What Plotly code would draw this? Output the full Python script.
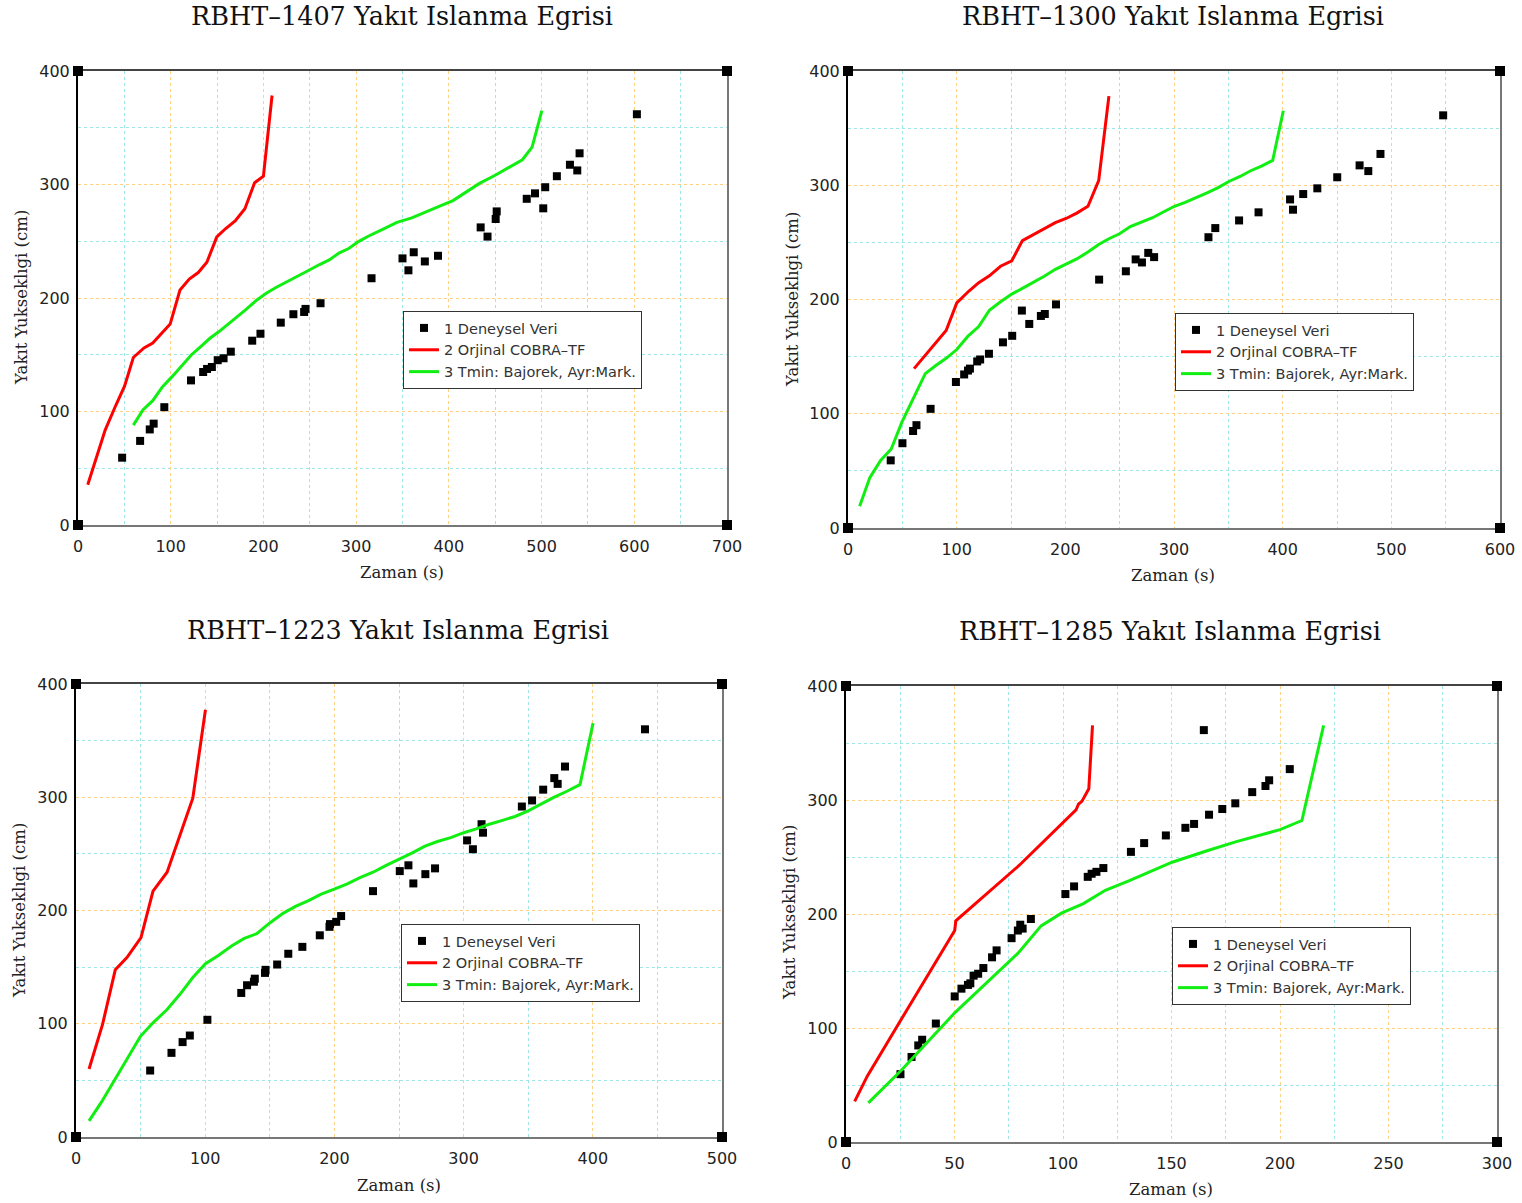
import plotly.graph_objects as go

W, H = 1522, 1203

# ---------------- data ----------------
# RBHT-1407
t1407_exp = [47.6, 67, 77.4, 81.6, 93.1, 121.9, 135, 139.2, 144.4, 150.7, 157, 164.8, 187.9, 196.8,
             218.7, 232.3, 243.9, 245.4, 261.6, 316.6, 350, 356.4, 362.1, 374.1, 388.3, 434.3, 441.7,
             450.5, 451.6, 484, 492.9, 501.8, 503.9, 516.5, 530.6, 538.5, 541, 602.8]
h1407_exp = [59.3, 74.1, 84.2, 89.3, 103.8, 127.4, 134.8, 137.5, 139.2, 145.2, 146.9, 152.7, 162.4, 168.5,
             178.3, 185.7, 187.7, 190.4, 195.4, 217.4, 234.9, 224.4, 240.3, 232.2, 237.2, 262.2, 254.1,
             269.6, 276.3, 287.4, 292.2, 279, 297.6, 307.3, 317.4, 312.4, 327.5, 361.9]
t1407_cobra = [10.5, 20, 29.3, 40.8, 50.2, 59.7, 71.2, 80.6, 91, 99.4, 110, 120, 129.7, 139, 149.7, 159,
               169.5, 180, 190.5, 200, 209.3]
h1407_cobra = [35.4, 60, 83.6, 105.5, 122.3, 147.6, 156, 160.4, 169.5, 177, 207, 216.7, 222.4, 231.5,
               253.8, 261, 268, 278.7, 301.6, 307.3, 378.4]
t1407_tmin = [59.7, 70, 80.6, 91, 101.5, 112, 122.4, 133, 142.3, 151.8, 171.6, 182, 192.6, 203, 213.5,
              229, 245, 260.6, 271, 281.5, 292, 302.5, 313, 328.6, 344, 360, 375.7, 391.4, 404.5,
              417.6, 433, 449, 464.7, 479.3, 489.8, 500.3]
h1407_tmin = [88, 101.4, 109.5, 121.7, 130.7, 140.9, 150, 157.7, 164.5, 170.2, 183, 190.4, 198.1, 204.2,
              209.3, 215.7, 222.7, 229.5, 233.5, 239.6, 243.6, 249.7, 254.4, 260.5, 266.6, 270.6,
              276.3, 281.4, 285.8, 292.5, 301, 307.7, 315.4, 321.8, 333, 365]

# RBHT-1300
t1300_exp = [39.3, 50.1, 59.9, 63, 76, 99.3, 106.9, 110.4, 112.2, 118.9, 121.6, 129.7, 142.6, 151.1,
             160, 166.8, 177.5, 181.1, 191.4, 231.1, 255.7, 264.7, 270.5, 276.3, 281.7, 331.7, 338,
             359.9, 377.8, 406.8, 409.5, 418.9, 431.9, 450.2, 470.8, 478.8, 490, 547.7]
h1300_exp = [59.2, 74.2, 84.9, 90, 104.3, 127.8, 134.4, 137.8, 139.5, 145.8, 147.5, 152.5, 162.5, 168.2,
             190.3, 178.6, 185.6, 187.3, 195.7, 217.4, 224.7, 235.1, 232.4, 240.8, 237.1, 254.5, 262.5,
             269.2, 276.3, 287.6, 278.6, 292.3, 297.3, 307, 317.4, 312.4, 327.4, 361.2]
t1300_cobra = [60.8, 70.5, 80.5, 90.3, 100.1, 111.3, 120.3, 130.1, 140.4, 150.7, 160.5, 170.3, 180.6,
               190.8, 200.7, 210.5, 220.8, 230.7, 240.1]
h1300_cobra = [139.5, 150.5, 161.5, 172.9, 197, 207.4, 214.7, 220.7, 229.1, 233.8, 251.5, 256.5, 262.2,
               267.2, 270.9, 275.6, 281.6, 304, 378]
t1300_tmin = [10.7, 20.1, 30, 39.8, 49.6, 60.5, 71.1, 80.5, 90.3, 100.1, 110.4, 120.3, 130.1, 140.4,
              150.7, 160.5, 170.3, 180.6, 190.8, 200.7, 210.5, 220.8, 230.7, 240.1, 249.9, 259.8, 270,
              280.3, 290.2, 300.4, 310.3, 320.6, 330.4, 340.2, 350.5, 360.8, 370.6, 380.5, 390.8, 400.6]
h1300_tmin = [19, 44.1, 59.2, 69.2, 92.6, 114, 135.1, 142, 148.5, 156.2, 167.9, 176.3, 190.6, 198, 204.7,
              209.7, 214.7, 220.4, 226.4, 230.8, 235.5, 241.5, 248.2, 253.2, 257.5, 263.9, 267.6, 271.6,
              276.6, 281.6, 285, 289, 293.3, 297.7, 303.3, 307.7, 312.7, 316.7, 321.7, 365.2]

# RBHT-1223
t1223_exp = [57.4, 73.9, 82.5, 88.1, 101.7, 127.9, 132.4, 137.7, 138.4, 146.3, 146.7, 155.7, 164.3,
             175.2, 188.7, 196.2, 196.6, 201.4, 205.2, 229.9, 250.6, 257.3, 261.1, 270.4, 277.9, 302.7,
             307.2, 313.9, 315, 345.1, 353, 361.6, 370.2, 372.8, 378.5, 440.4]
h1223_exp = [58.7, 74.3, 83.8, 89.6, 103.5, 127.2, 134, 137.1, 139.8, 144.9, 147.6, 152.3, 161.8, 167.9,
             178.1, 185.6, 188, 190, 195.1, 217.1, 234.8, 239.9, 223.9, 232.1, 237.2, 261.9, 254.1,
             276.2, 268.7, 291.8, 297.2, 306.7, 316.9, 311.8, 327.1, 360]
t1223_cobra = [10.1, 20.6, 30.4, 39.4, 50.3, 59.6, 70.5, 80.6, 90.4, 100.2]
h1223_cobra = [60, 99.7, 147.6, 158.4, 176.1, 217.1, 233.8, 266.3, 299.2, 377.3]
t1223_tmin = [10.1, 19.9, 30, 40.1, 49.9, 59.6, 70.5, 80.6, 90.4, 100.2, 109.9, 120.4, 130.2, 139.9,
              150, 160.2, 169.9, 180, 189.8, 199.9, 210, 219.8, 229.9, 240.1, 249.8, 259.9, 270.1,
              279.8, 290, 300.1, 309.8, 319.9, 330.1, 339.8, 350, 360.1, 369.8, 380, 390.1, 400.2]
h1223_tmin = [14.2, 31.2, 50.6, 70.2, 88.9, 100.8, 112.6, 126.2, 140.8, 153, 160.1, 168.6, 175.4, 179.5,
              189, 197.5, 203.6, 208.7, 214.4, 218.8, 223.6, 229, 233.8, 239.9, 245, 250.7, 256.8,
              260.9, 264.3, 268.7, 272.1, 276.2, 279.6, 283, 288, 294.1, 299.9, 305.3, 311.1, 365.4]

# RBHT-1285
t1285_exp = [25.1, 30.2, 33.3, 35.1, 41.4, 50.1, 53.2, 56.2, 57.3, 58.8, 60.9, 63.3, 67.3, 69.4, 76.3,
             79.2, 80.3, 81.4, 85.2, 101.1, 105.1, 111.4, 113.2, 115.4, 118.6, 131.3, 137.4, 147.4,
             156.4, 160.4, 167.3, 173.4, 179.4, 187.2, 193.3, 195, 204.5, 164.9]
h1285_exp = [59.5, 74.6, 84.7, 89.7, 103.9, 127.7, 134.5, 137.8, 139.2, 145.9, 147.6, 152.6, 162, 168.1,
             178.8, 185.5, 190.6, 187.2, 195.6, 217.5, 224.2, 232.6, 235.3, 237, 240.3, 254.5, 262.2,
             268.9, 275.6, 279, 287.1, 292.1, 297.1, 306.9, 312.3, 317.3, 327.1, 361.3]
t1285_cobra = [4, 9.8, 30, 50.1, 50.6, 80, 106, 107.2, 108.7, 111.9, 113.6]
h1285_cobra = [35.6, 57.8, 122, 185.5, 194, 243, 291.4, 296.5, 298.8, 309.9, 365.4]
t1285_tmin = [10.3, 25.5, 50.1, 65.8, 79.2, 89.9, 99.3, 109.4, 119.5, 130.6, 140.7, 150.3, 166.4,
              179.9, 200, 210.1, 220.1]
h1285_tmin = [34.3, 62.9, 113.3, 141.8, 165.4, 189.6, 200.7, 209.1, 220.8, 229.2, 237.3, 245.4, 255.5,
              263.5, 274, 282, 365.4]

titles = ["RBHT–1407 Yakıt Islanma Egrisi", "RBHT–1300 Yakıt Islanma Egrisi",
          "RBHT–1223 Yakıt Islanma Egrisi", "RBHT–1285 Yakıt Islanma Egrisi"]
x_ranges = [700, 600, 500, 300]
x_steps = [100, 100, 100, 50]
y_max = 400
y_step = 100
legend_names = ["1 Deneysel Veri", "2 Orjinal COBRA–TF", "3 Tmin: Bajorek, Ayr:Mark."]
x_title = "Zaman (s)"
y_title = "Yakıt Yukseklıgi (cm)"

series = [
    (t1407_exp, h1407_exp, t1407_cobra, h1407_cobra, t1407_tmin, h1407_tmin),
    (t1300_exp, h1300_exp, t1300_cobra, h1300_cobra, t1300_tmin, h1300_tmin),
    (t1223_exp, h1223_exp, t1223_cobra, h1223_cobra, t1223_tmin, h1223_tmin),
    (t1285_exp, h1285_exp, t1285_cobra, h1285_cobra, t1285_tmin, h1285_tmin),
]

# ---------------- layout geometry (pixels) ----------------
# plot boxes: left, top, right, bottom
boxes = [(78, 71, 727, 525), (848, 71, 1500, 528), (76, 684, 722, 1137), (846, 686, 1497, 1142)]
title_pos = [(402, 16), (1173, 16), (398, 630), (1170, 631)]
xtitle_pos = [(402, 572), (1173, 575), (399, 1185), (1171, 1189)]
ytitle_pos = [(22, 298), (792, 300), (20, 911), (789, 913)]
legend_pos = [(403, 311), (1175, 313), (401, 924), (1172, 927)]

SERIF = "DejaVu Serif"
SANS = "DejaVu Sans"
MAJOR_GRID = "#ffcf85"
MINOR_GRID = "#9fe6e6"


def px(x):
    return x / W


def py(y):
    return 1 - y / H


fig = go.Figure()
layout = dict(
    width=W, height=H, margin=dict(l=0, r=0, t=0, b=0, autoexpand=False),
    paper_bgcolor="white", plot_bgcolor="white", showlegend=True,
)
annotations = []

for i in range(4):
    n = "" if i == 0 else str(i + 1)
    xa, ya = "x" + n, "y" + n
    lg = "legend" + n
    left, top, right, bottom = boxes[i]
    t_exp, h_exp, t_cb, h_cb, t_tm, h_tm = series[i]
    xmax = x_ranges[i]

    fig.add_trace(go.Scatter(
        x=t_exp, y=h_exp, mode="markers", name=legend_names[0], xaxis=xa, yaxis=ya, legend=lg,
        marker=dict(symbol="square", size=8, color="black"), cliponaxis=False))
    fig.add_trace(go.Scatter(
        x=t_cb, y=h_cb, mode="lines", name=legend_names[1], xaxis=xa, yaxis=ya, legend=lg,
        line=dict(color="#ff0000", width=3)))
    fig.add_trace(go.Scatter(
        x=t_tm, y=h_tm, mode="lines", name=legend_names[2], xaxis=xa, yaxis=ya, legend=lg,
        line=dict(color="#11ee11", width=3)))
    # frame corner markers
    fig.add_trace(go.Scatter(
        x=[0, 0, xmax, xmax], y=[0, y_max, 0, y_max], mode="markers", showlegend=False,
        xaxis=xa, yaxis=ya, hoverinfo="skip", cliponaxis=False,
        marker=dict(symbol="square", size=10, color="black")))

    xstep = x_steps[i]
    layout["xaxis" + n] = dict(
        domain=[px(left), px(right)], anchor=ya, range=[0, xmax], automargin=False,
        tickmode="linear", tick0=0, dtick=xstep, ticks="", ticklabelstandoff=6,
        showgrid=True, gridcolor=MAJOR_GRID, griddash="dot", gridwidth=1,
        minor=dict(dtick=xstep / 2, tick0=0, showgrid=True, gridcolor=MINOR_GRID,
                   griddash="dot", gridwidth=1),
        zeroline=False, showline=True, linecolor="#777777", linewidth=2,
        layer="below traces",
        tickfont=dict(family=SANS, size=16, color="#222"),
    )
    layout["yaxis" + n] = dict(
        domain=[py(bottom), py(top)], anchor=xa, range=[0, y_max], automargin=False,
        tickmode="linear", tick0=0, dtick=y_step, ticks="", ticklabelstandoff=3,
        showgrid=True, gridcolor=MAJOR_GRID, griddash="dot", gridwidth=1,
        minor=dict(dtick=y_step / 2, tick0=0, showgrid=True, gridcolor=MINOR_GRID,
                   griddash="dot", gridwidth=1),
        zeroline=False, showline=True, linecolor="black", linewidth=2,
        layer="below traces",
        tickfont=dict(family=SANS, size=16, color="#222"),
    )
    # top and right frame edges drawn as overlaying axes
    k = str(i + 5)
    layout["xaxis" + k] = dict(
        domain=[px(left), px(right)], anchor=ya, overlaying=xa, side="top", range=[0, xmax],
        showgrid=False, zeroline=False, showticklabels=False, ticks="", automargin=False,
        showline=True, linecolor="#444444", linewidth=1.5, layer="below traces",
    )
    layout["yaxis" + k] = dict(
        domain=[py(bottom), py(top)], anchor=xa, overlaying=ya, side="right", range=[0, y_max],
        showgrid=False, zeroline=False, showticklabels=False, ticks="", automargin=False,
        showline=True, linecolor="#777777", linewidth=1.5, layer="below traces",
    )
    # an invisible trace keeps the overlay axes alive
    fig.add_trace(go.Scatter(x=[None], y=[None], xaxis="x" + k, yaxis="y" + k,
                             showlegend=False, hoverinfo="skip", mode="markers"))

    # titles
    tx, ty = title_pos[i]
    annotations.append(dict(text=titles[i], x=px(tx), y=py(ty), xref="paper", yref="paper",
                            showarrow=False, xanchor="center", yanchor="middle",
                            font=dict(family=SERIF, size=25.5, color="#111")))
    ax_, ay_ = xtitle_pos[i]
    annotations.append(dict(text=x_title, x=px(ax_), y=py(ay_), xref="paper", yref="paper",
                            showarrow=False, xanchor="center", yanchor="middle",
                            font=dict(family=SERIF, size=16.5, color="#222")))
    bx, by = ytitle_pos[i]
    annotations.append(dict(text=y_title, x=px(bx), y=py(by), xref="paper", yref="paper",
                            showarrow=False, xanchor="center", yanchor="middle", textangle=-90,
                            font=dict(family=SERIF, size=16.5, color="#222")))

    lx, ly = legend_pos[i]
    layout[lg] = dict(
        x=px(lx), y=py(ly), xanchor="left", yanchor="top",
        bgcolor="white", bordercolor="#333333", borderwidth=1,
        font=dict(family=SANS, size=14.5, color="#333"),
        itemwidth=30, tracegroupgap=0,
    )

layout["annotations"] = annotations
fig.update_layout(**layout)

fig.write_html("out.html")
